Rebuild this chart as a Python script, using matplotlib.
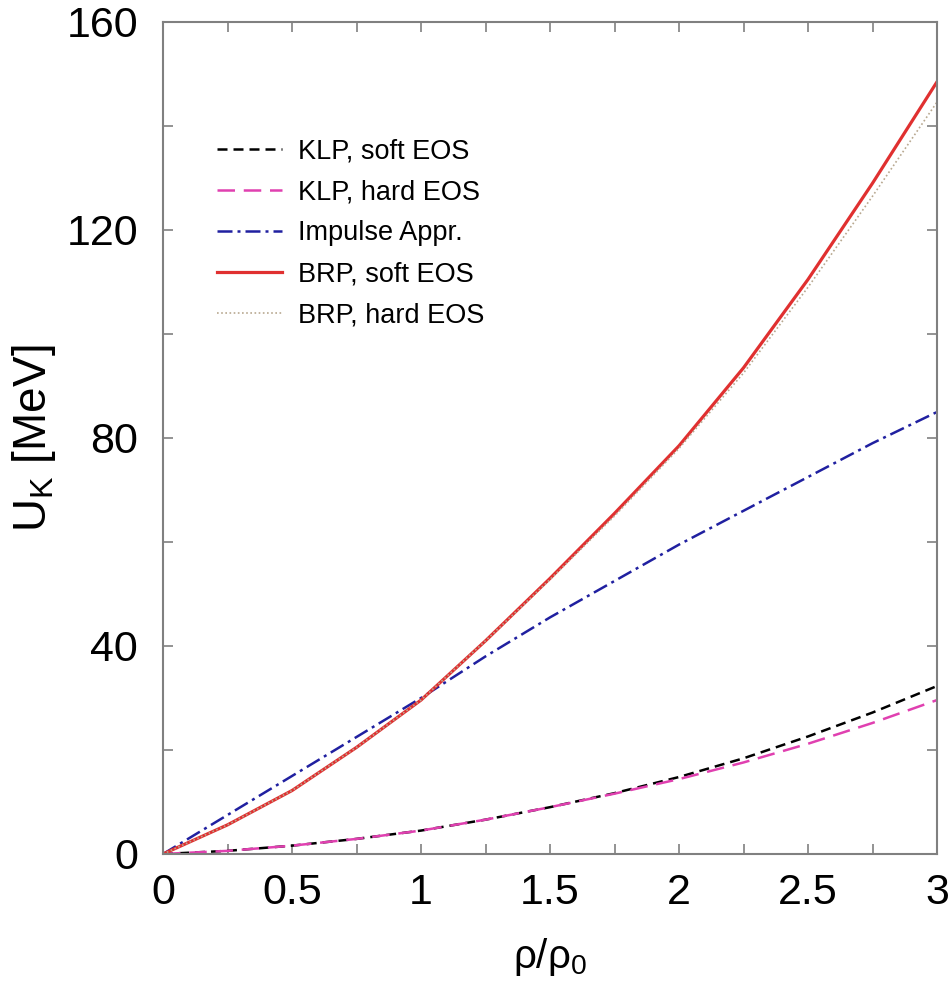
import matplotlib
matplotlib.use("Agg")
import matplotlib.pyplot as plt
from matplotlib.ticker import MultipleLocator

# density in units of rho_0
rho = [0, 0.25, 0.5, 0.75, 1.0, 1.25, 1.5, 1.75, 2.0, 2.25, 2.5, 2.75, 3.0]

klp_soft = [0, 0.6, 1.6, 2.9, 4.5, 6.6, 9.0, 11.7, 14.8, 18.4, 22.6, 27.2, 32.3]
klp_hard = [0, 0.6, 1.6, 2.9, 4.5, 6.6, 9.0, 11.6, 14.4, 17.6, 21.2, 25.2, 29.6]
impulse = [0, 7.5, 15.0, 22.5, 30.0, 38.0, 45.5, 52.5, 59.5, 66.0, 72.5, 79.0, 85.0]
brp_soft = [0, 5.6, 12.2, 20.5, 29.6, 41.0, 53.0, 65.5, 78.5, 93.5, 110.5, 129.0, 148.5]
brp_hard = [0, 5.6, 12.2, 20.5, 29.6, 41.0, 52.8, 65.0, 78.0, 92.5, 109.0, 126.5, 144.6]

font = ["Liberation Sans", "DejaVu Sans"]
plt.rcParams["font.family"] = font
plt.rcParams["mathtext.fontset"] = "custom"
plt.rcParams["mathtext.rm"] = "Liberation Sans"
plt.rcParams["mathtext.it"] = "Liberation Sans"

fig = plt.figure(figsize=(9.49, 9.90), dpi=100)
ax = fig.add_axes([0.1718, 0.1374, 0.8156, 0.8404])

ax.plot(rho, klp_soft, color="black", lw=1.8, dashes=(4, 2.4), label="KLP, soft EOS")
ax.plot(rho, klp_hard, color="#e040b0", lw=1.8, dashes=(7, 3.5), label="KLP, hard EOS")
ax.plot(rho, impulse, color="#2020a0", lw=1.8, dashes=(6, 2, 1.2, 2), label="Impulse Appr.")
ax.plot(rho, brp_soft, color="#e03030", lw=2.3, label="BRP, soft EOS")
ax.plot(rho, brp_hard, color="#b8a890", lw=1.2, dashes=(1, 1.5), label="BRP, hard EOS")

ax.set_xlim(0, 3)
ax.set_ylim(0, 160)
ax.xaxis.set_major_locator(MultipleLocator(0.5))
ax.xaxis.set_minor_locator(MultipleLocator(0.25))
ax.yaxis.set_major_locator(MultipleLocator(40))
ax.yaxis.set_minor_locator(MultipleLocator(20))
ax.xaxis.set_major_formatter(plt.FuncFormatter(lambda v, p: f"{v:g}"))

for s in ax.spines.values():
    s.set_color("#808080")
    s.set_linewidth(1.5)
ax.tick_params(which="both", direction="in", top=True, right=True,
               length=7, width=1.2, color="#808080", labelsize=31)
ax.tick_params(axis="x", pad=14)
ax.tick_params(axis="y", pad=18)

ax.set_xlabel(r"ρ/ρ$_0$", fontsize=29, labelpad=16)
ax.set_ylabel(r"U$_\mathrm{K}$ [MeV]", fontsize=33, labelpad=6)

ax.legend(loc="upper left", bbox_to_anchor=(0.07, 0.86), frameon=False,
          fontsize=19.5, handlelength=2.4, handletextpad=0.6, labelspacing=0.55,
          borderpad=0, borderaxespad=0)

fig.savefig("out.png", dpi=100)
